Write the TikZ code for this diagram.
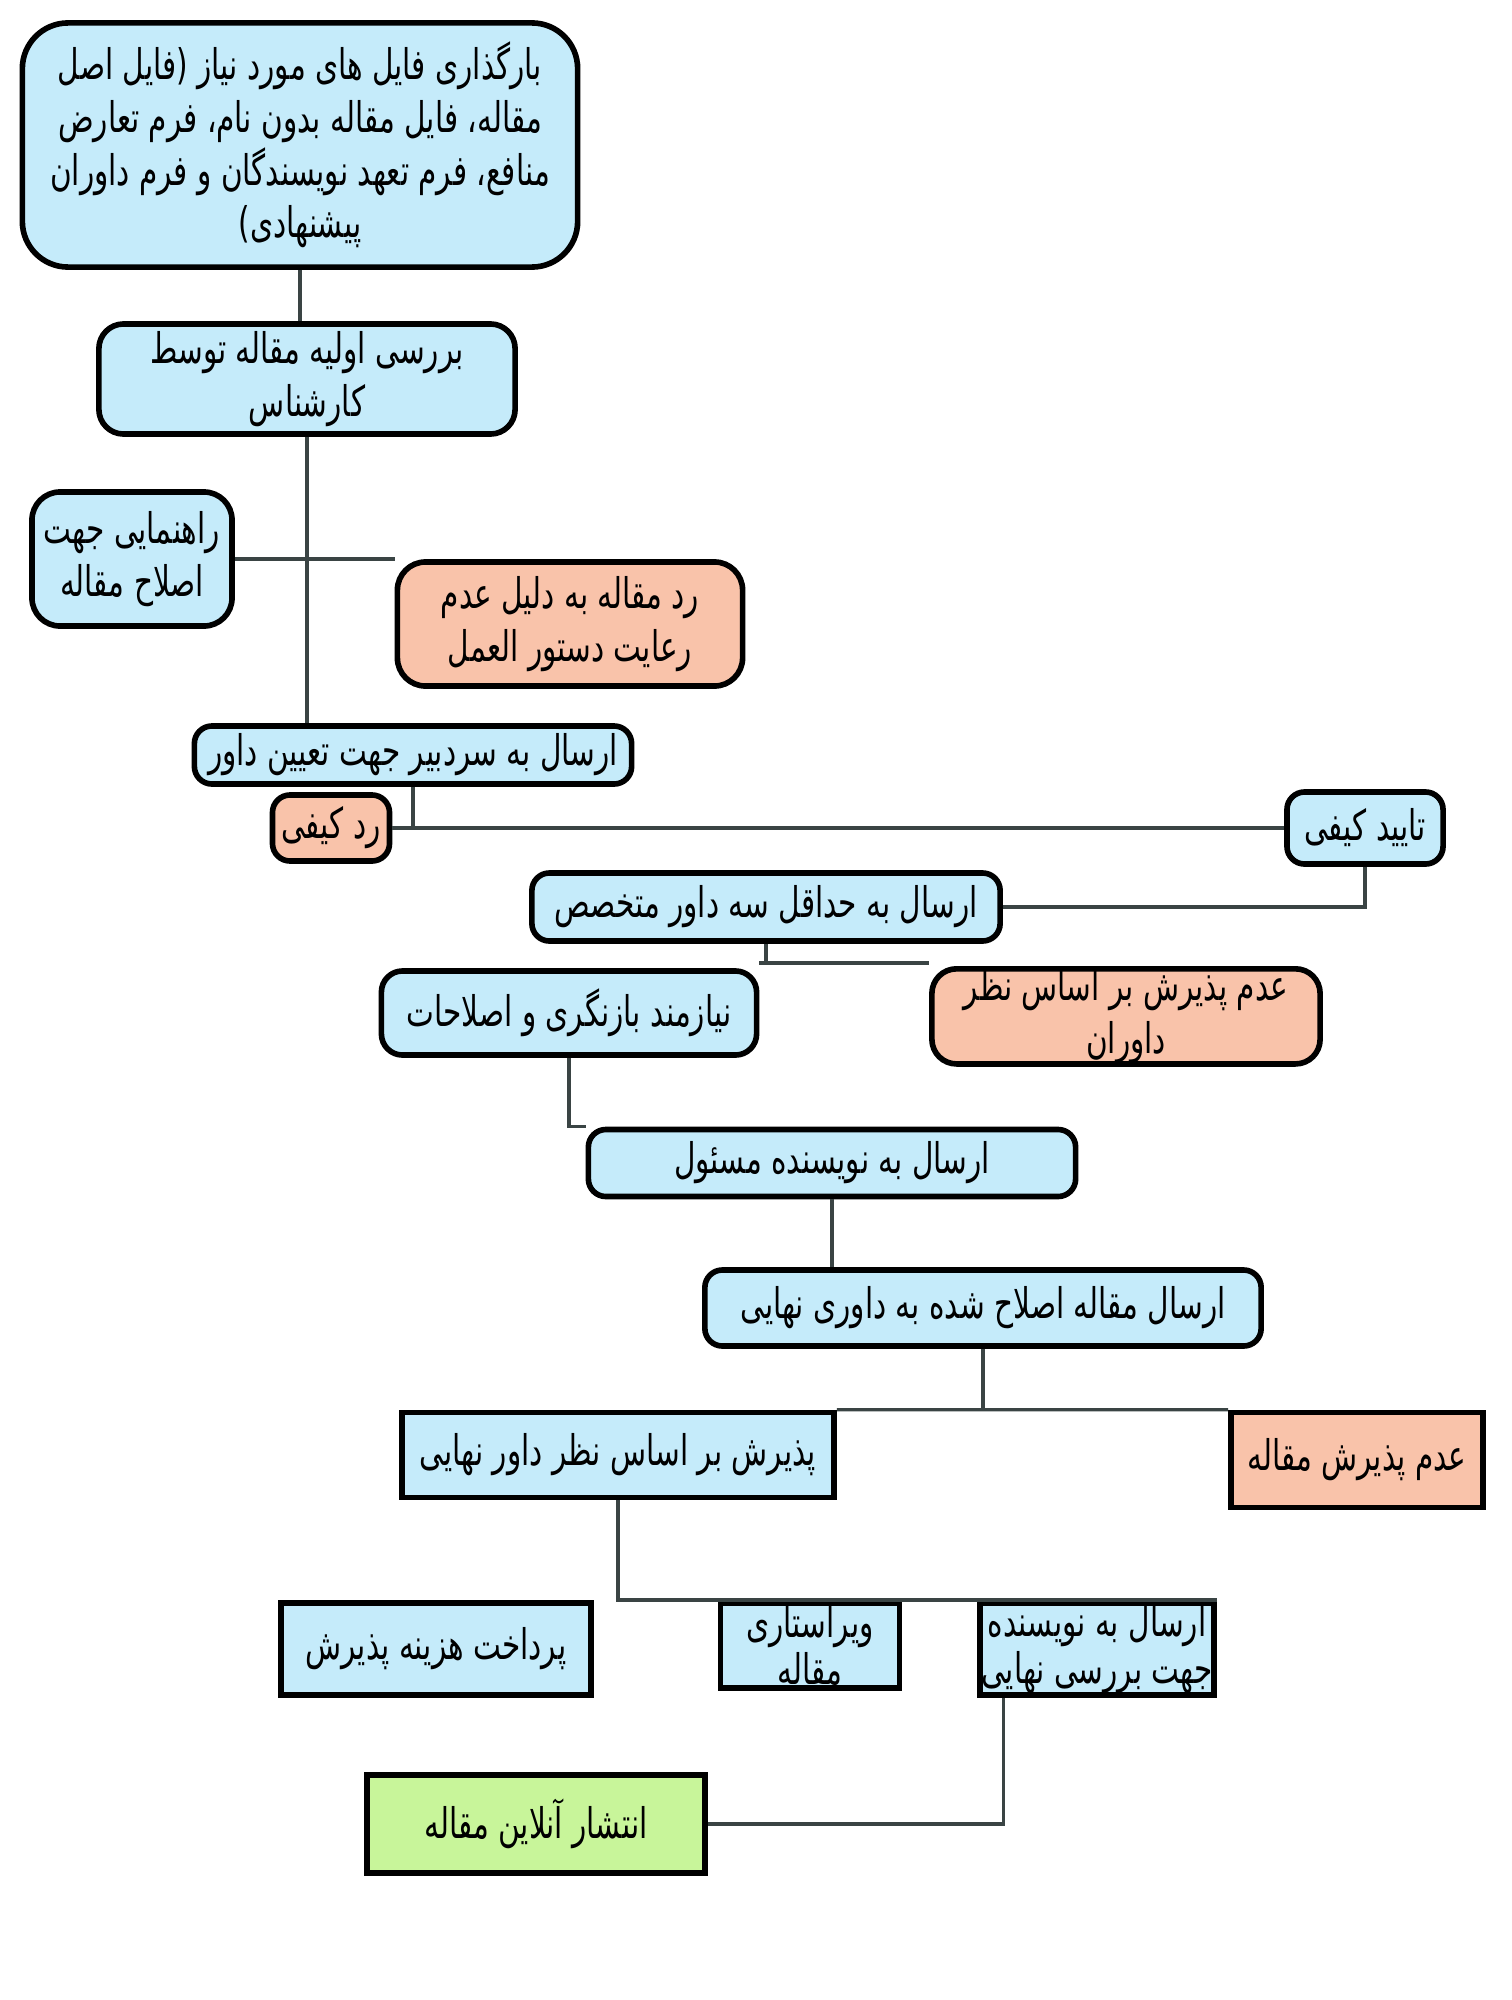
\documentclass[tikz,border=0pt]{standalone}
\usepackage{fontspec}
\newfontfamily\arabicfont[Script=Arabic,FakeStretch=0.70]{DejaVu Sans}
\TeXXeTstate=1
\newcommand{\fa}[1]{\beginR #1\endR}
\definecolor{boxblue}{HTML}{C5EBFA}
\definecolor{boxred}{HTML}{F9C3AA}
\definecolor{boxgreen}{HTML}{C8F59A}
\definecolor{linegray}{HTML}{3A4444}

\begin{document}
\begin{tikzpicture}[x=0.01cm,y=-0.01cm,
    box/.style={draw=black,line width=1.6pt,align=center,inner sep=0pt,
      font=\arabicfont\fontsize{12}{15}\selectfont},
    bluebox/.style={box,fill=boxblue},
    redbox/.style={box,fill=boxred},
    greenbox/.style={box,fill=boxgreen},
    link/.style={draw=linegray,line width=0.9pt}]
    \fill[white] (0,0) rectangle (1511,2000);
    \useasboundingbox (0,0) rectangle (1511,2000);

    % submission and first check
    \node[bluebox,rounded corners=13pt,minimum width=5.55cm,minimum height=2.44cm] (upload) at (300,145)
        {\fa{بارگذاری فایل های مورد نیاز (فایل اصل}\\ \fa{مقاله، فایل مقاله بدون نام، فرم تعارض}\\
         \fa{منافع، فرم تعهد نویسندگان و فرم داوران}\\ \fa{پیشنهادی)}};
    \node[bluebox,rounded corners=7pt,minimum width=4.16cm,minimum height=1.1cm] (review) at (307,379)
        {\fa{بررسی اولیه مقاله توسط}\\ \fa{کارشناس}};
    \node[bluebox,rounded corners=8pt,minimum width=2cm,minimum height=1.34cm] (guide) at (132,559)
        {\fa{راهنمایی جهت}\\ \fa{اصلاح مقاله}};
    \node[redbox,rounded corners=8pt,minimum width=3.45cm,minimum height=1.24cm] (rej1) at (570,624)
        {\fa{رد مقاله به دلیل عدم}\\ \fa{رعایت دستور العمل}};

    % editor
    \node[bluebox,rounded corners=5pt,minimum width=4.37cm,minimum height=0.58cm] (editor) at (413,755)
        {\fa{ارسال به سردبیر جهت تعیین داور}};
    \node[redbox,rounded corners=5pt,minimum width=1.17cm,minimum height=0.66cm] (qrej) at (331,828)
        {\fa{رد کیفی}};
    \node[bluebox,rounded corners=5pt,minimum width=1.56cm,minimum height=0.72cm] (qacc) at (1365,828)
        {\fa{تایید کیفی}};

    % reviewers
    \node[bluebox,rounded corners=5pt,minimum width=4.68cm,minimum height=0.68cm] (three) at (766,907)
        {\fa{ارسال به حداقل سه داور متخصص}};
    \node[bluebox,rounded corners=6pt,minimum width=3.75cm,minimum height=0.84cm] (revise) at (569,1013)
        {\fa{نیازمند بازنگری و اصلاحات}};
    \node[redbox,rounded corners=7pt,minimum width=3.88cm,minimum height=0.94cm,anchor=north] (rej2) at (1126,966)
        {\fa{عدم پذیرش بر اساس نظر}\\ \fa{داوران}};
    \node[bluebox,rounded corners=5pt,minimum width=4.87cm,minimum height=0.67cm] (author) at (832,1163)
        {\fa{ارسال به نویسنده مسئول}};
    \node[bluebox,rounded corners=5pt,minimum width=5.56cm,minimum height=0.76cm] (revised) at (983,1308)
        {\fa{ارسال مقاله اصلاح شده به داوری نهایی}};

    % final decision
    \node[bluebox,minimum width=4.32cm,minimum height=0.85cm] (accept) at (618,1455)
        {\fa{پذیرش بر اساس نظر داور نهایی}};
    \node[redbox,minimum width=2.52cm,minimum height=0.95cm] (rej3) at (1357,1460)
        {\fa{عدم پذیرش مقاله}};
    \node[bluebox,minimum width=3.1cm,minimum height=0.92cm,anchor=north] (pay) at (436,1600)
        {\fa{پرداخت هزینه پذیرش}};
    \node[bluebox,minimum width=1.79cm,minimum height=0.85cm,anchor=north,
        font=\arabicfont\fontsize{12}{13.5}\selectfont] (edit) at (810,1600)
        {\fa{ویراستاری}\\ \fa{مقاله}};
    \node[bluebox,minimum width=2.34cm,minimum height=0.92cm,anchor=north,
        font=\arabicfont\fontsize{12}{13.5}\selectfont] (final) at (1097,1600)
        {\fa{ارسال به نویسنده}\\ \fa{جهت بررسی نهایی}};
    \node[greenbox,minimum width=3.38cm,minimum height=0.98cm] (online) at (536,1824)
        {\fa{انتشار آنلاین مقاله}};

    \coordinate (j3) at (766,963);

    \draw[link] (upload.south) -- (upload.south |- review.north);
    \draw[link] (review.south) -- (review.south |- editor.north);
    \draw[link] (guide.east) -- (guide.east -| rej1.north west);
    \draw[link] (editor.south) -- (editor.south |- qrej.east);
    \draw[link] (qrej.east) -- (qacc.west);
    \draw[link] (qacc.south) |- (three.east);
    \draw[link] (three.south) -- (j3);
    \draw[link] (revise.north east |- j3) -- (rej2.north west |- j3);
    \draw[link] (revise.south) |- (author.north west);
    \draw[link] (author.south) -- (author.south |- revised.north);
    \draw[link] (revised.south) -- (revised.south |- accept.north);
    \draw[link] (accept.north east) -- (rej3.north west);
    \draw[link] (accept.south) -- (accept.south |- pay.north) -- (final.north east);
    \draw[link] ([xshift=0.26cm]final.south west) |- (online.east);
\end{tikzpicture}
\end{document}
